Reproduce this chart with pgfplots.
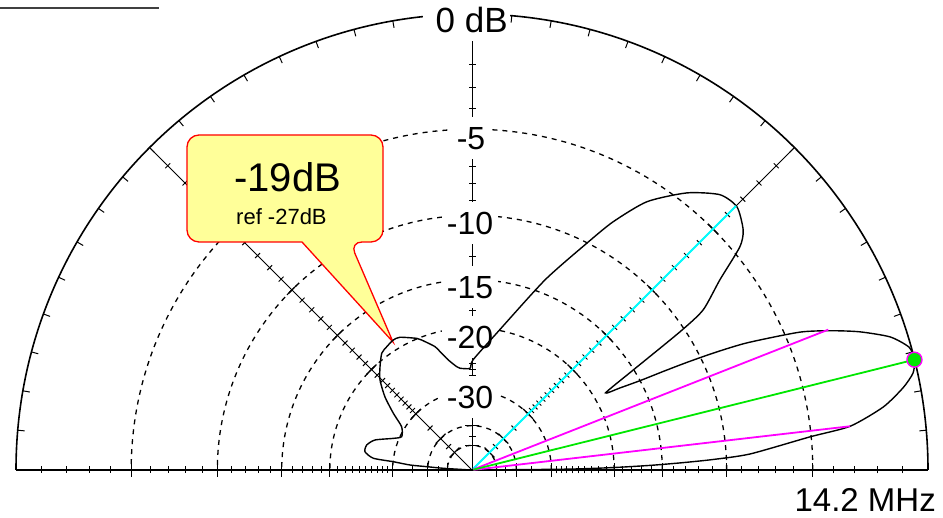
\documentclass[border=0pt]{standalone}
\usepackage{pgfplots}
\pgfplotsset{compat=1.18}
\usepackage{pgfplotstable}
\usepackage{fontspec}
\setmainfont{Liberation Sans}
\definecolor{callout}{RGB}{255,255,153}
\definecolor{mag}{RGB}{255,0,255}
\definecolor{cyn}{RGB}{0,255,255}
\definecolor{grn}{RGB}{0,230,0}
% ARRL log scale: r = 456 * 0.89^(dB/2)
\newcommand\polarize[1]{%
 \pgfplotstablecreatecol[create col/expr={456*exp(-0.058266*\thisrow{db})*cos(\thisrow{ang})}]{px}#1%
 \pgfplotstablecreatecol[create col/expr={456*exp(-0.058266*\thisrow{db})*sin(\thisrow{ang})}]{py}#1}

% elevation pattern: angle (deg), dB below peak
\pgfplotstableread{
ang db
0 99
0.5 27
1 20
1.5 16
2 13.2
2.5 10.9
3.3 8.46
5.6 5.06
6.6 3.1
8.7 1.58
10.8 0.66
12.4 0.17
14 0
15.7 0.08
17.65 0.66
19.6 1.75
21.1 2.83
22.8 4.26
24.8 7.0
25.8 9.0
26.6 11.0
27.3 13.0
28.0 15.0
29.0 17.0
30.0 18.6
31.8 15.07
33.6 10.34
34.7 8.31
37.5 6.49
39.8 4.61
41.5 3.96
44.8 3.43
48.0 3.57
52.2 4.51
56.9 6.07
60.4 8.05
63.1 10.0
69.0 13.85
79.7 20.35
89.5 24.4
91.1 25.75
96.7 25.63
98.4 25.3
102.2 24.0
105.1 22.56
106.7 21.7
111.2 20.34
112.8 19.93
118.5 18.97
121.2 18.86
124.7 19.1
127.7 19.36
131.7 20.48
135.6 21.7
139.9 23.8
144.2 26.56
148.4 29.3
154.6 30.35
158.1 28.87
162.8 25.79
166.6 24.69
170.3 24.63
173.2 26.15
174.0 30.07
175.4 34.2
175.8 39.6
176.6 47.4
180 99
}\elevtab
\pgfplotstableread{
ang db
45 99
45 3.43
}\cyantab
\pgfplotstableread{
ang db
21.5 99
21.5 3.0
}\magtabA
\pgfplotstableread{
ang db
6.6 99
6.6 3.1
}\magtabB
\pgfplotstableread{
ang db
14 99
14 0
}\peaktab
\pgfplotstableread{
ang db
14 0
}\peakpttab
\polarize\elevtab
\polarize\cyantab
\polarize\magtabA
\polarize\magtabB
\polarize\peaktab
\polarize\peakpttab

\begin{document}
\begin{tikzpicture}[x=1pt,y=1pt]
\useasboundingbox (0,0) rectangle (943,518);
\draw[black!75, line width=2.5] (0,510) -- (159,510);
\begin{scope}[shift={(472,48)}]
  % dashed rings (ARRL log scale)
  \foreach \dbv in {5,10,15,20,30,40,50}{
    \pgfmathsetmacro\rad{456*exp(-0.058266*\dbv)}
    \draw[line width=1.3, dash pattern=on 5pt off 5pt] (\rad,0) arc[start angle=0,end angle=180,radius=\rad];
  }
  % outer circle
  \draw[line width=1.6] (456,0) arc[start angle=0,end angle=180,radius=456];
  \foreach \ang in {5,10,...,175}{\draw[line width=1, rotate=\ang] (449,0) -- (456,0);}
  % radial lines
  \draw[line width=2] (-456,0) -- (456,0);
  \foreach \ang in {45,90,135}{\draw[line width=1, rotate=\ang] (0,0) -- (456,0);}
  % ticks
  \foreach \ang in {0,45,90,135,180}{
    \foreach \dbv in {1,2,...,30,35,45}{
      \pgfmathsetmacro\rad{456*exp(-0.058266*\dbv)}
      \draw[line width=1, rotate=\ang] (\rad,-3.5) -- (\rad,3.5);
    }
    \foreach \dbv in {5,10,15,20,30,40,50}{
      \pgfmathsetmacro\rad{456*exp(-0.058266*\dbv)}
      \draw[line width=1.2, rotate=\ang] (\rad,-7) -- (\rad,7);
    }
  }
  % labels
  \fill[white] (-49,429) rectangle (38,472);
  \node[anchor=base west, inner sep=0, font=\fontsize{35}{40}\selectfont] at (-36.5,437) {0 dB};
  \tikzset{rl/.style={fill=white, font=\fontsize{32}{36}\selectfont, text height=23pt, text depth=0pt, inner xsep=5pt, inner ysep=9.5pt}}
  \node[rl] at (-1,332) {-5};
  \node[rl] at (-2,246.5) {-10};
  \node[rl] at (-2,183) {-15};
  \node[rl] at (-2,132.5) {-20};
  \node[rl] at (-2,72.5) {-30};
\end{scope}
% callout
\draw[red, line width=1.3, fill=callout] (393,176) -- (302,276) [rounded corners=12pt] -- (187,276) -- (187,383) -- (383,383) -- (383,276) -- (350,276) [sharp corners] -- cycle;
\node[anchor=base west, inner sep=0, font=\fontsize{40}{48}\selectfont] at (234,326) {-19dB};
\node[anchor=base west, inner sep=0, font=\fontsize{22}{26}\selectfont] at (236,293) {ref -27dB};
\node[anchor=base east, inner sep=0, font=\fontsize{33}{40}\selectfont] at (936,6) {14.2 MHz};

\begin{axis}[x=1pt, y=1pt, xmin=-472, xmax=471, ymin=-48, ymax=470,
  hide axis, clip=false, at={(0,0)}, anchor=south west]
  \addplot[black, line width=1.4pt, smooth, tension=0.4] table[x=px, y=py] {\elevtab};
  \addplot[cyn, line width=1.8pt] table[x=px, y=py] {\cyantab};
  \addplot[mag, line width=1.8pt] table[x=px, y=py] {\magtabA};
  \addplot[mag, line width=1.8pt] table[x=px, y=py] {\magtabB};
  \addplot[grn, line width=1.8pt] table[x=px, y=py] {\peaktab};
  \addplot[only marks, mark=*, mark size=7.5pt, mark options={fill=grn, draw=mag, line width=1.4pt}] table[x=px, y=py] {\peakpttab};
\end{axis}
\end{tikzpicture}
\end{document}
